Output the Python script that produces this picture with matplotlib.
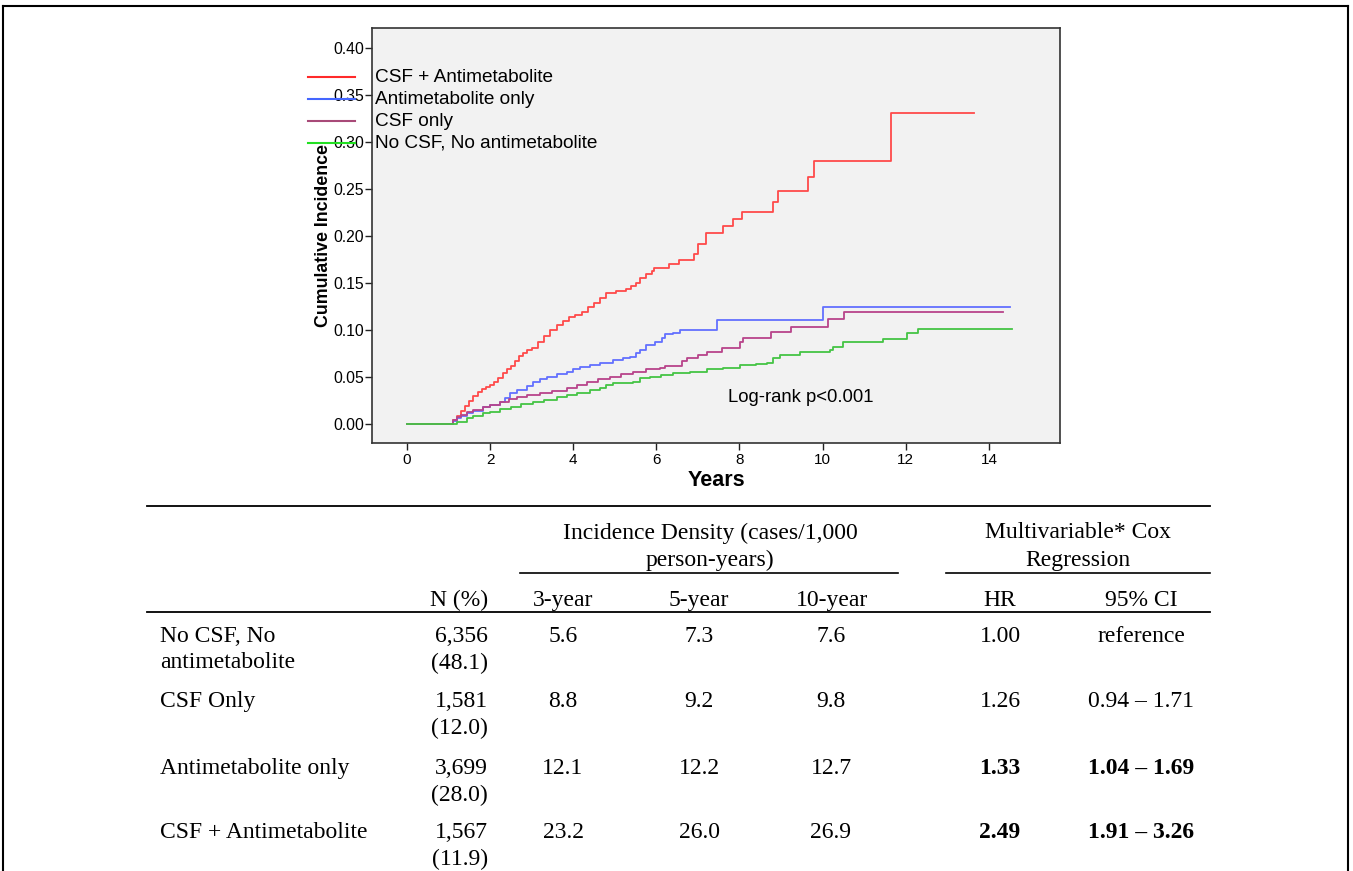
import matplotlib
matplotlib.use("Agg")
import matplotlib.pyplot as plt
from matplotlib.lines import Line2D

# ---------------- data ----------------
series_names = ["CSF + Antimetabolite", "Antimetabolite only", "CSF only", "No CSF, No antimetabolite"]

red_t = [0, 1.0, 1.1, 1.2, 1.3, 1.4, 1.5, 1.6, 1.7, 1.8, 1.9, 2.0, 2.1, 2.2, 2.3, 2.4, 2.5, 2.6, 2.7,
         2.8, 2.9, 3.0, 3.15, 3.3, 3.45, 3.6, 3.75, 3.9, 4.05, 4.2, 4.35, 4.5, 4.65, 4.8, 5.04, 5.27,
         5.39, 5.51, 5.6, 5.74, 5.9, 5.95, 6.30, 6.55, 6.91, 6.99, 7.19, 7.61, 7.85, 8.06, 8.81, 8.93,
         9.66, 9.80, 11.65, 13.64]
red_v = [0, 0, 0.004, 0.009, 0.014, 0.019, 0.025, 0.030, 0.034, 0.037, 0.039, 0.0415, 0.045, 0.049,
         0.054, 0.058, 0.062, 0.067, 0.072, 0.076, 0.079, 0.081, 0.087, 0.094, 0.100, 0.105, 0.110,
         0.114, 0.116, 0.1195, 0.124, 0.129, 0.134, 0.1397, 0.1418, 0.144, 0.147, 0.150, 0.1556,
         0.1596, 0.1628, 0.1663, 0.1705, 0.175, 0.1805, 0.191, 0.203, 0.211, 0.2184, 0.226, 0.2365,
         0.248, 0.263, 0.2795, 0.3305, 0.3305]

blue_t = [0, 1.0, 1.1, 1.2, 1.3, 1.44, 1.6, 1.84, 2.0, 2.24, 2.35, 2.48, 2.65, 2.88, 3.04, 3.2, 3.36,
          3.6, 3.84, 4.0, 4.16, 4.4, 4.64, 4.96, 5.2, 5.36, 5.5, 5.6, 5.76, 5.97, 6.13, 6.21, 6.4,
          6.57, 7.45, 10.0, 14.5]
blue_v = [0, 0, 0.003, 0.006, 0.008, 0.0114, 0.014, 0.018, 0.020, 0.0237, 0.028, 0.0326, 0.036,
          0.040, 0.045, 0.048, 0.050, 0.053, 0.0556, 0.058, 0.061, 0.063, 0.0645, 0.068, 0.070,
          0.0716, 0.076, 0.0787, 0.084, 0.0876, 0.091, 0.0957, 0.0968, 0.100, 0.1106, 0.124, 0.124]

purple_t = [0, 1.0, 1.1, 1.2, 1.3, 1.44, 1.6, 1.84, 2.0, 2.24, 2.45, 2.64, 2.9, 3.2, 3.5, 3.84, 4.1,
            4.32, 4.6, 4.88, 5.15, 5.44, 5.75, 6.09, 6.21, 6.61, 6.73, 7.01, 7.21, 7.57, 8.01, 8.09,
            8.77, 9.25, 10.13, 10.51, 14.35]
purple_v = [0, 0, 0.004, 0.007, 0.010, 0.013, 0.015, 0.018, 0.020, 0.0237, 0.027, 0.029, 0.031,
            0.0326, 0.035, 0.038, 0.042, 0.045, 0.048, 0.050, 0.053, 0.0556, 0.058, 0.060, 0.0617,
            0.0667, 0.070, 0.0734, 0.077, 0.0805, 0.0876, 0.092, 0.098, 0.103, 0.1114, 0.1195, 0.1195]

green_t = [0, 1.0, 1.2, 1.44, 1.6, 1.84, 2.0, 2.24, 2.5, 2.75, 3.04, 3.3, 3.6, 3.84, 4.1, 4.4, 4.64,
           4.8, 4.96, 5.2, 5.44, 5.6, 5.85, 6.1, 6.41, 6.8, 7.21, 7.6, 8.01, 8.4, 8.65, 8.81, 8.97,
           9.45, 10.18, 10.26, 10.5, 11.46, 12.02, 12.30, 14.55]
green_v = [0, 0, 0.002, 0.006, 0.008, 0.0114, 0.013, 0.0156, 0.018, 0.021, 0.0237, 0.026, 0.029,
           0.031, 0.033, 0.036, 0.038, 0.041, 0.0433, 0.044, 0.045, 0.0486, 0.050, 0.052, 0.054,
           0.0556, 0.0585, 0.060, 0.0628, 0.064, 0.0645, 0.070, 0.0734, 0.077, 0.0787, 0.0816,
           0.087, 0.090, 0.0964, 0.101, 0.101]

x_ticks = [0, 2, 4, 6, 8, 10, 12, 14]
y_ticks = [0.00, 0.05, 0.10, 0.15, 0.20, 0.25, 0.30, 0.35, 0.40]

# table
tbl_groups = ["No CSF, No\nantimetabolite", "CSF Only", "Antimetabolite only", "CSF + Antimetabolite"]
tbl_n = ["6,356\n(48.1)", "1,581\n(12.0)", "3,699\n(28.0)", "1,567\n(11.9)"]
tbl_3y = ["5.6", "8.8", "12.1", "23.2"]
tbl_5y = ["7.3", "9.2", "12.2", "26.0"]
tbl_10y = ["7.6", "9.8", "12.7", "26.9"]
tbl_hr = ["1.00", "1.26", "1.33", "2.49"]
tbl_ci = ["reference", "0.94 \u2013 1.71", "1.04 \u2013 1.69", "1.91 \u2013 3.26"]
tbl_bold = [False, False, True, True]

# ---------------- figure ----------------
W, H = 1353, 871
fig = plt.figure(figsize=(W / 100, H / 100), dpi=100)
fig.patch.set_facecolor("white")

def fx(px):
    return px / W

def fy(py):
    return 1 - py / H

# outer frame
for (x0, y0, x1, y1) in [(3, 6, 1348, 6), (3, 6, 3, 871), (1348, 6, 1348, 871)]:
    fig.add_artist(Line2D([fx(x0), fx(x1)], [fy(y0), fy(y1)], color="black", lw=1.5))

ax = fig.add_axes([fx(372), fy(443), fx(1060) - fx(372), fy(28) - fy(443)])
ax.set_facecolor("#f2f2f2")

colors = ["#ff4a4a", "#6270ff", "#b8448a", "#45c445"]
legend_colors = ["#ff2a2a", "#4466ff", "#a84a78", "#22e022"]
for (t, v), c in zip([(red_t, red_v), (blue_t, blue_v), (purple_t, purple_v), (green_t, green_v)], colors):
    ax.step(t, v, where="post", color=c, lw=1.3)

ax.set_xlim(-0.84, 15.71)
ax.set_ylim(-0.0202, 0.4213)
ax.set_xticks(x_ticks)
ax.set_xticklabels([str(x) for x in x_ticks], fontsize=11, family="Liberation Sans")
ax.set_yticks(y_ticks)
ax.set_yticklabels([f"{y:.2f}" for y in y_ticks], fontsize=11.3, family="Liberation Sans")
ax.tick_params(direction="out", length=5, width=1, color="#222222")
ax.tick_params(axis="y", pad=0.5)
ax.tick_params(axis="x", pad=2)
for s in ax.spines.values():
    s.set_color("#333333")
    s.set_linewidth(1.2)

ax.set_xlabel("Years", fontsize=15.5, fontweight="bold", family="Liberation Sans", labelpad=2)
ax.set_ylabel("Cumulative Incidence", fontsize=12.8, fontweight="bold", family="Liberation Sans", labelpad=1)

ax.text(7.72, 0.0277, "Log-rank p<0.001", fontsize=13.3, family="Liberation Sans",
        ha="left", va="center")

# legend (outside left of axes)
leg_y = [77, 99, 121, 143]
for name, c, ly in zip(series_names, legend_colors, leg_y):
    fig.add_artist(Line2D([fx(308), fx(355)], [fy(ly), fy(ly)], color=c, lw=1.5))
    fig.text(fx(375), fy(ly), name, fontsize=13.7, family="Liberation Sans", ha="left", va="center")

# ---------------- table ----------------
serif = "Liberation Serif"
fs = 17

def hline(x0, x1, y, lw=1.3):
    fig.add_artist(Line2D([fx(x0), fx(x1)], [fy(y), fy(y)], color="black", lw=lw))

hline(147, 1210, 506)
hline(520, 898, 573, lw=1.2)
hline(946, 1210, 573, lw=1.2)
hline(147, 1210, 612)

def t(x, y, s, ha="center", bold=False):
    fig.text(fx(x), fy(y), s, fontsize=fs, family=serif, ha=ha, va="center",
             fontweight="bold" if bold else "normal")

t(710, 533, "Incidence Density (cases/1,000")
t(710, 560, "person-years)")
t(1078, 533, "Multivariable* Cox")
t(1078, 560, "Regression")

t(488, 600, "N (%)", ha="right")
t(563, 600, "3-year")
t(699, 600, "5-year")
t(832, 600, "10-year")
t(1000, 600, "HR")
t(1141, 600, "95% CI")

row_y = [636, 701, 768, 832]
line_gap = 27
for i, y in enumerate(row_y):
    g_lines = tbl_groups[i].split("\n")
    for k, gl in enumerate(g_lines):
        t(160, y + k * line_gap, gl, ha="left")
    n_lines = tbl_n[i].split("\n")
    for k, nl in enumerate(n_lines):
        t(488, y + k * line_gap, nl, ha="right")
    t(563, y, tbl_3y[i])
    t(699, y, tbl_5y[i])
    t(831, y, tbl_10y[i])
    t(1000, y, tbl_hr[i], bold=tbl_bold[i])
    t(1141, y, tbl_ci[i], bold=tbl_bold[i])

fig.savefig("out.png", dpi=100)
